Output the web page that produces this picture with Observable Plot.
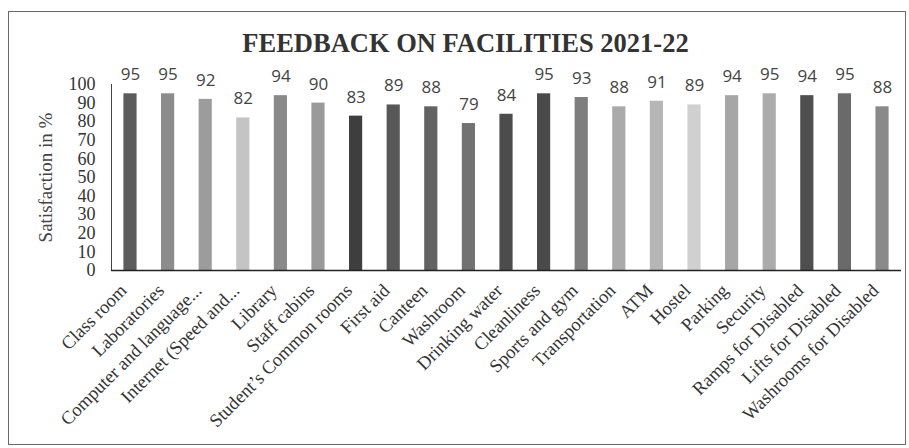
<!DOCTYPE html>
<html><head><meta charset="utf-8">
<script src="https://cdn.jsdelivr.net/npm/d3@7"></script>
<script src="https://cdn.jsdelivr.net/npm/@observablehq/plot@0.6"></script>
<style>
html,body{margin:0;padding:0;background:#fff;}
#wrap{position:relative;width:909px;height:448px;overflow:hidden;}
#box{position:absolute;left:8px;top:11px;width:898px;height:434px;border:1.5px solid #6a6a6a;box-sizing:border-box;}
#title{position:absolute;left:11px;width:909px;top:28px;text-align:center;font-family:"Liberation Serif","DejaVu Serif",serif;font-weight:bold;font-size:26.5px;color:#333;}
#chart{position:absolute;left:0;top:0;}
</style></head>
<body><div id="wrap"><div id="box"></div><div id="title">FEEDBACK ON FACILITIES 2021-22</div><div id="chart"></div></div>
<script>
const categories = ["Class room","Laboratories","Computer and language...","Internet (Speed and...","Library","Staff cabins","Student’s Common rooms","First aid","Canteen","Washroom","Drinking water","Cleanliness","Sports and gym","Transportation","ATM","Hostel","Parking","Security","Ramps for Disabled","Lifts for Disabled","Washrooms for Disabled"];
const values = [95,95,92,82,94,90,83,89,88,79,84,95,93,88,91,89,94,95,94,95,88];
const barColors = ["#5c5c5c","#8c8c8c","#9c9c9c","#c4c4c4","#8a8a8a","#9a9a9a","#3e3e3e","#575757","#626262","#727272","#4c4c4c","#4a4a4a","#7e7e7e","#aaaaaa","#b6b6b6","#d0d0d0","#a6a6a6","#acacac","#4e4e4e","#6a6a6a","#8a8a8a"];
const yTicks = [0,10,20,30,40,50,60,70,80,90,100];
const yTitle = "Satisfaction in %";

const data = categories.map((c,i)=>({facility:c, value:values[i]}));

const chart = Plot.plot({
  width:909, height:448,
  marginLeft:111, marginRight:8, marginTop:84, marginBottom:178,
  style:{fontFamily:"'Liberation Serif','DejaVu Serif',serif", background:"transparent", color:"#333"},
  x:{domain:categories, paddingInner:0.65, paddingOuter:0.33, round:false, label:null},
  y:{domain:[0,100], label:null},
  color:{domain:categories, range:barColors},
  marks:[
    Plot.barY(data,{x:"facility", y:"value", fill:"facility"}),
    Plot.frame({anchor:"left", stroke:"#444", strokeWidth:1}),
    Plot.axisY({ticks:yTicks, tickSize:0, tickPadding:16, fontSize:18, label:null, fill:"#333"}),
    Plot.axisX({tickSize:0, tickPadding:17, dx:-7, tickRotate:-45, fontSize:18.5, label:null, fill:"#333"}),
    Plot.ruleY([0],{stroke:"#222", strokeWidth:1.5}),
    Plot.text(data,{x:"facility", y:"value", text:d=>String(d.value), dy:-19, fontSize:17, fill:"#444", fontFamily:"'Open Sans','Liberation Sans',sans-serif"}),
    Plot.text([yTitle],{text:d=>d, frameAnchor:"left", rotate:-90, dx:-66, fontSize:19, fill:"#444", textAnchor:"middle"})
  ]
});
document.getElementById("chart").appendChild(chart);
</script>
</body></html>
